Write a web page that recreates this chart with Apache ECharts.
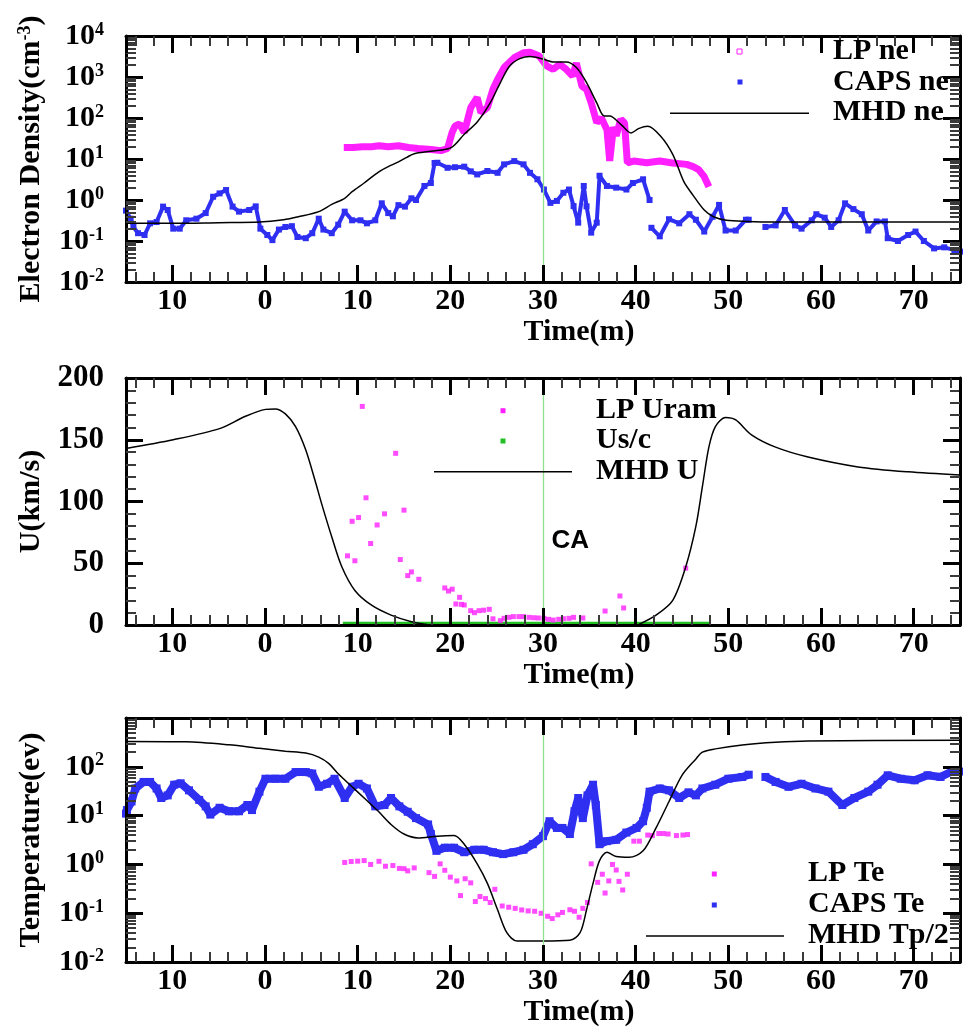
<!DOCTYPE html>
<html>
<head>
<meta charset="utf-8">
<script src="https://cdn.jsdelivr.net/npm/echarts@6/dist/echarts.min.js"></script>
<style>
html,body{margin:0;padding:0;background:#fff;}
#c{width:963px;height:1028px;}
</style>
</head>
<body>
<div id="c"></div>
<script>
// ---------------- DATA ----------------
const caTime = 30;
const timeMin = -15, timeMax = 75;

// Panel 1: electron density (cm^-3)  [time(min), value]
const lpNe = [[8.5,19],[9.5,19],[10.5,20],[11.5,20],[12.3,21],[13.3,20],[14.4,21],[15.5,19],[16.5,18],[17.9,17],[19,16],[19.7,18],[20.2,45],[20.5,63],[21,72],[21.5,44],[22.2,180],[22.9,316],[23.3,135],[24,180],[24.6,500],[25.1,870],[25.8,1700],[26.9,2960],[27.9,3900],[28.6,4000],[29.6,3240],[30.4,1860],[31.1,1540],[31.8,2040],[32.5,1540],[33.2,1050],[33.6,2200],[34.2,600],[34.7,500],[35.2,235],[35.8,78],[36.3,100],[36.9,52],[37.2,9],[37.6,60],[37.9,37],[38.4,94],[38.8,76],[39.1,8.1],[39.8,8.9],[41.2,8.1],[42.6,8.9],[44,8],[45.5,7.4],[46.2,6.5],[46.8,5.5],[47.4,3.7],[47.9,2.1]];
const capsNe = [[-15,0.55],[-14.5,0.35],[-14.2,0.22],[-13.7,0.155],[-13,0.14],[-12.4,0.27],[-11.7,0.29],[-11,0.69],[-10.5,0.57],[-9.9,0.2],[-9.2,0.2],[-8.5,0.32],[-7.4,0.35],[-6.4,0.48],[-5.6,1.2],[-4.9,1.45],[-4.2,1.75],[-3.5,0.69],[-2.8,0.52],[-1.7,0.57],[-1,0.7],[-0.5,0.2],[0.25,0.14],[0.8,0.105],[1.5,0.19],[2.2,0.22],[2.9,0.23],[3.5,0.125],[4.4,0.117],[5.1,0.155],[5.8,0.35],[6.3,0.19],[7.2,0.155],[7.9,0.25],[8.6,0.52],[9.4,0.32],[10.3,0.32],[11,0.27],[11.9,0.32],[12.6,0.83],[13.3,0.48],[13.8,0.4],[14.4,0.75],[15.1,0.69],[15.8,1.1],[16.3,1.0],[17.2,2.2],[17.9,2.6],[18.3,8],[18.6,8.1],[19.7,6.1],[20.5,6.3],[21.5,6.5],[22.2,5],[22.9,4.2],[24,5.1],[25.1,4.6],[25.8,7.4],[26.9,8.9],[27.9,7.4],[28.6,4.6],[29.4,3.2],[30.1,1.8],[30.8,0.85],[31.5,0.95],[32.2,1.5],[32.8,1.8],[33.3,0.71],[33.8,0.28],[34.4,2.2],[34.7,0.7],[35.2,0.16],[35.8,0.28],[36.1,3.9],[36.9,2.2],[37.9,2.0],[39,1.8],[39.7,2.6],[40.8,3.2],[41.5,1.0],[41.6,null],[41.7,0.21],[42.6,0.13],[43.6,0.34],[44.7,0.27],[45.8,0.45],[46.5,0.33],[47.4,0.17],[48.3,0.39],[49,0.76],[49.7,0.18],[50.8,0.18],[51.9,0.33],[52.2,0.33],[53,null],[54,0.22],[55.1,0.24],[56.1,0.57],[57.2,0.24],[57.9,0.2],[59,0.32],[59.5,0.45],[60.4,0.37],[61.1,0.22],[61.9,0.32],[62.6,0.83],[63.5,0.6],[64.4,0.45],[65.1,0.18],[66,0.3],[66.9,0.3],[67.2,0.117],[68.3,0.1],[69.4,0.14],[70.2,0.17],[71.1,0.1],[72.2,0.066],[73.3,0.07],[74.4,0.06],[75,0.055]];
const mhdNe = [[-15,0.27],[-10,0.27],[-5,0.28],[-0.6,0.29],[2,0.33],[3.6,0.39],[5.8,0.52],[7.2,0.78],[8.6,1.1],[9.4,1.6],[10.7,2.6],[11.5,3.6],[12.5,5.2],[13.3,6.5],[14.4,8.5],[15.3,11],[16.1,13.5],[17.9,15.5],[20.1,19],[21.5,40],[22.9,80],[24.3,234],[25.4,730],[26.4,1860],[27.5,2800],[28.6,3150],[30.1,2700],[31.1,2330],[32.5,2330],[33.6,1700],[34.7,730],[35.8,234],[36.6,112],[37.2,112],[38.4,70],[39.5,43],[40.3,55],[41.3,63],[42.7,36],[44,13],[45.2,2.8],[46.2,1.3],[47.4,0.57],[48.4,0.39],[49.8,0.32],[52,0.3],[55,0.29],[75,0.29]];

// Panel 2: flow speed (km/s)
const lpUram = [[8.9,56],[9.4,84],[9.7,52],[10.1,87],[10.5,177],[10.9,103],[11.4,66],[12.1,81],[12.9,90],[14.1,139],[14.6,53],[15,93],[15.4,40],[15.8,43],[16.6,37],[19.4,30],[19.8,27.5],[20.2,29],[20.6,17],[21,22.4],[21.2,16.7],[21.5,16.2],[22.2,11.6],[22.6,10],[23.1,11.6],[23.6,12],[24.2,12.7],[24.6,5],[25.4,3.5],[25.8,5.4],[26.3,6.2],[26.8,6.8],[27.4,6.8],[27.9,6.8],[28.5,6.2],[29,5.9],[29.5,5.7],[30.1,5.4],[30.6,4.6],[31.1,4],[31.7,4.6],[32.2,5.1],[32.8,5.4],[33.3,6.2],[34.3,5.7],[36.7,11.3],[38.3,23.5],[38.7,13.8],[45.4,46]];
const usc = [[8.4,1.5],[48.1,1.5]];
const mhdU = [[-15,143],[-9.9,150],[-4.9,159],[-2.1,169],[0.07,174.6],[1.1,175],[2.2,171],[3.3,160.6],[4.4,141.7],[5.4,117],[6.1,98.5],[7.2,71.5],[8.3,47],[9.7,28],[11.5,16],[13.6,8],[15.8,2.7],[17.6,0.3],[18.5,0],[40,0],[40.3,0.3],[42.2,8],[44,20],[45.4,47],[46.5,80],[47.2,112],[47.9,144],[48.6,160.6],[49.7,168],[50.8,166],[52.5,154],[55.1,144],[58.6,136],[64,128],[69.4,124],[75,121.5]];

// Panel 3: temperature (eV)
const lpTe = [[8.6,1.1],[9.3,1.15],[10,1.17],[10.7,1.2],[11.4,1.0],[12.3,1.16],[13,0.92],[13.8,0.95],[14.5,0.83],[15,0.82],[15.4,0.74],[16.1,0.85],[17.7,0.68],[18.3,0.57],[18.9,1.03],[19.4,0.76],[20,0.55],[20.7,0.46],[21.1,0.23],[21.6,0.51],[22.2,0.42],[22.7,0.174],[23.2,0.22],[23.8,0.2],[24.3,0.166],[24.8,0.31],[25.6,0.141],[26.3,0.133],[27,0.126],[27.7,0.117],[28.4,0.112],[29.1,0.11],[29.8,0.1],[30.5,0.087],[31,0.078],[31.6,0.093],[32.1,0.104],[32.9,0.118],[33.4,0.11],[33.9,0.083],[34.3,0.126],[34.8,0.166],[35.2,1.03],[35.9,0.43],[36.4,0.63],[36.7,0.26],[37.1,0.46],[37.5,1.0],[37.9,0.77],[38.2,0.45],[38.6,0.3],[39.1,0.63],[39.8,3.0],[40.4,3.0],[41.3,4.0],[41.8,3.9],[42.5,4.3],[43,4.3],[43.5,4.2],[44.4,3.9],[45.1,4.0],[45.6,4.1]];
const capsTe = [[-15,11],[-14.9,13],[-14.4,19.5],[-14,36],[-13.1,49],[-12.4,49],[-11.7,36],[-11.2,23],[-10.5,26],[-9.8,43],[-9.1,46],[-8.2,33],[-7.1,21],[-6.4,15.5],[-5.9,10.5],[-4.9,14.5],[-3.9,12.3],[-2.8,12.3],[-1.9,16.5],[-1.4,13],[-0.6,31],[0.05,57],[1.1,57],[2.2,57],[3.3,78],[4.4,78],[5.1,73],[5.8,39],[6.7,45],[7.5,57],[8.6,23],[9.4,39],[10.1,45],[11,36],[11.9,15.5],[12.9,16.5],[13.6,23],[14.5,15.5],[15.4,12],[16.3,8.9],[17.6,6.6],[17.9,4.2],[18.5,1.9],[19.4,2.2],[20.4,2.2],[21.5,1.78],[22.6,2.0],[23.6,2.0],[24.6,1.78],[25.7,1.63],[26.8,1.78],[27.9,2.0],[28.9,2.6],[30,3.8],[30.7,7.7],[31.5,5.6],[32.1,5.6],[32.9,4.2],[33.4,12.3],[33.8,23],[34.3,8.9],[34.8,26],[35.4,43],[35.7,16.5],[36.1,2.6],[36.9,3.0],[37.9,3.2],[39,4.5],[40.1,5.6],[40.8,7.7],[41.2,14.5],[41.5,31],[42.6,36],[43.6,33],[44.7,23],[45.7,30],[46.5,26],[47.2,36],[48.6,43],[50,57],[51.5,62],[52.2,69],[53,null],[54,62],[55.1,49],[56.5,39],[57.9,45],[59.4,36],[60.8,31],[62.3,16.5],[63.6,23],[65.1,31],[66.1,43],[67.2,67],[68.6,57],[70.1,53],[71.5,67],[72.9,62],[74.4,85],[75,80]];
const mhdTp = [[-15,331],[-8.5,325],[-3.9,282],[-0.6,240],[2.2,209],[4.4,191],[5.8,158],[6.9,116],[7.9,72],[9.4,39],[10.7,23],[12.2,12.4],[13.6,6.6],[15,4.2],[16.5,3.5],[18.6,3.8],[20.4,3.9],[21.5,2.6],[22.9,1.03],[24,0.41],[25.1,0.118],[26.1,0.04],[27.2,0.027],[30,0.027],[32.9,0.028],[34,0.04],[34.7,0.118],[35.4,0.41],[36.1,1.2],[36.9,1.78],[37.9,1.45],[39.3,1.4],[40.8,1.9],[42.2,5.6],[43.6,19.5],[45,67],[46.5,145],[47.2,200],[48.6,233],[51.5,280],[55.1,318],[58.6,338],[75,352]];

// ---------------- STYLE ----------------
const FONT = '"Liberation Serif","Times New Roman",serif';
const SANS = '"Liberation Sans",Arial,sans-serif';
const PINK = '#ff1fff', BLUE = '#2f2ff2', GREEN = '#22c022', CAGREEN = '#8fe08f';
const chart = echarts.init(document.getElementById('c'), null, {renderer: 'canvas', width: 963, height: 1028});

const labelRich = {
  b: {fontFamily: FONT, fontWeight: 'bold', fontSize: 30, color: '#000'},
  s: {fontFamily: FONT, fontWeight: 'bold', fontSize: 18, color: '#000', verticalAlign: 'top'}
};
function powLabel(v) {
  const e = Math.log10(v), r = Math.round(e);
  if (Math.abs(e - r) > 1e-6) return '';
  return '{b|10}{s|' + r + '}';
}
const axisLineStyle = {onZero: false, lineStyle: {color: '#000', width: 3}};
const majorTick = {inside: true, length: 17, lineStyle: {color: '#000', width: 3}};
function minor(n) { return {show: true, splitNumber: n, length: 10, lineStyle: {color: '#3a3a3a', width: 2}}; }

function xAxes(gi) {
  const common = {gridIndex: gi, type: 'value', min: timeMin, max: timeMax, splitNumber: 9, z: 5,
    splitLine: {show: false}, minorSplitLine: {show: false}, axisLine: axisLineStyle, axisTick: majorTick, minorTick: minor(5)};
  return [
    Object.assign({}, common, {position: 'bottom',
      axisLabel: {formatter: v => (v % 10 === 0 ? String(Math.abs(v)) : ''), fontFamily: FONT, fontWeight: 'bold', fontSize: 30, color: '#000', margin: 4},
      name: 'Time(m)', nameLocation: 'middle', nameGap: 33,
      nameTextStyle: {fontFamily: FONT, fontWeight: 'bold', fontSize: 30, color: '#000', padding: [0, 0, 0, 72]}}),
    Object.assign({}, common, {position: 'top', axisLabel: {show: false}})
  ];
}
// log axis: minor ticks split each decade into 9 equal value steps -> 2,3,...,9 x 10^k
function logYAxes(gi, min, max, name, nameRich) {
  const common = {gridIndex: gi, type: 'log', logBase: 10, min: min, max: max, splitNumber: 6, z: 5,
    splitLine: {show: false}, minorSplitLine: {show: false}, axisLine: axisLineStyle, axisTick: majorTick, minorTick: minor(9)};
  return [
    Object.assign({}, common, {position: 'left',
      axisLabel: {formatter: powLabel, rich: labelRich, margin: 22, showMaxLabel: max <= 10000 && Math.abs(Math.log10(max) - 4) < 1e-9},
      name: name, nameLocation: 'middle', nameGap: 80,
      nameTextStyle: {fontFamily: FONT, fontWeight: 'bold', fontSize: 30, color: '#000',
        rich: nameRich || {}}}),
    Object.assign({}, common, {position: 'right', axisLabel: {show: false}})
  ];
}
function linYAxes(gi, name) {
  const common = {gridIndex: gi, type: 'value', min: 0, max: 200, interval: 50, z: 5,
    splitLine: {show: false}, minorSplitLine: {show: false}, axisLine: axisLineStyle, axisTick: majorTick, minorTick: minor(5)};
  return [
    Object.assign({}, common, {position: 'left',
      axisLabel: {fontFamily: FONT, fontWeight: 'bold', fontSize: 31, color: '#000', margin: 22},
      name: name, nameLocation: 'middle', nameGap: 80,
      nameTextStyle: {fontFamily: FONT, fontWeight: 'bold', fontSize: 30, color: '#000'}}),
    Object.assign({}, common, {position: 'right', axisLabel: {show: false}})
  ];
}
function caLine(gi, extra) {
  return Object.assign({type: 'line', xAxisIndex: 2 * gi, yAxisIndex: 2 * gi, data: [], z: 1,
    markLine: {silent: true, symbol: 'none', label: {show: false}, animation: false,
      lineStyle: {color: CAGREEN, width: 1.3, type: 'solid'}, data: [{xAxis: caTime}]}}, extra || {});
}

const grids = [
  {left: 126, right: -5, top: 36, height: 246},
  {left: 126, right: -5, top: 378, height: 247},
  {left: 126, right: -5, top: 718, height: 249}
];

const series = [
  // panel 1
  caLine(0),
  {name: 'LP ne', type: 'line', xAxisIndex: 0, yAxisIndex: 0, data: lpNe, showSymbol: false, z: 2,
    lineStyle: {color: PINK, width: 7}},
  {name: 'CAPS ne', type: 'line', xAxisIndex: 0, yAxisIndex: 0, data: capsNe, z: 3,
    symbol: 'rect', symbolSize: 6, showSymbol: true, showAllSymbol: true, itemStyle: {color: BLUE},
    connectNulls: false, lineStyle: {color: BLUE, width: 4}},
  {name: 'MHD ne', type: 'line', xAxisIndex: 0, yAxisIndex: 0, data: mhdNe, showSymbol: false, z: 4,
    smooth: 0.3, lineStyle: {color: '#000', width: 1.5}},
  // panel 2
  caLine(1, {markPoint: {silent: true, symbol: 'circle', symbolSize: 1, itemStyle: {color: 'rgba(0,0,0,0)'},
    label: {show: true, position: 'right', distance: 8, formatter: 'CA', fontFamily: SANS, fontWeight: 'bold', fontSize: 26, color: '#000'},
    data: [{coord: [caTime, 68]}]}}),
  {name: 'Us/c', type: 'line', xAxisIndex: 2, yAxisIndex: 2, data: usc, showSymbol: false, z: 2,
    lineStyle: {color: GREEN, width: 3}},
  {name: 'LP Uram', type: 'scatter', xAxisIndex: 2, yAxisIndex: 2, data: lpUram, symbol: 'rect', symbolSize: 5, z: 3,
    itemStyle: {color: PINK}},
  {name: 'MHD U', type: 'line', xAxisIndex: 2, yAxisIndex: 2, data: mhdU, showSymbol: false, z: 4,
    smooth: 0.3, lineStyle: {color: '#000', width: 1.5}},
  // panel 3
  caLine(2),
  {name: 'CAPS Te', type: 'line', xAxisIndex: 4, yAxisIndex: 4, data: capsTe, z: 2,
    symbol: 'rect', symbolSize: 8, showSymbol: true, showAllSymbol: true, itemStyle: {color: BLUE},
    connectNulls: false, lineStyle: {color: BLUE, width: 8}},
  {name: 'LP Te', type: 'scatter', xAxisIndex: 4, yAxisIndex: 4, data: lpTe, symbol: 'rect', symbolSize: 5, z: 3,
    itemStyle: {color: PINK}},
  {name: 'MHD Tp/2', type: 'line', xAxisIndex: 4, yAxisIndex: 4, data: mhdTp, showSymbol: false, z: 4,
    smooth: 0.3, lineStyle: {color: '#000', width: 1.5}}
];

// ---------- legends ----------
const els = [];
function txt(s, x, y) {
  els.push({type: 'text', x: x, y: y, z: 100, silent: true, style: {text: s, font: 'bold 30px ' + FONT, fill: '#000',
    align: 'left', verticalAlign: 'middle', textAlign: 'left', textVerticalAlign: 'middle'}});
}
function sq(x, y, color, open) {
  els.push({type: 'rect', z: 100, silent: true, shape: {x: x - 2.5, y: y - 2.5, width: 5, height: 5},
    style: open ? {fill: '#fff', stroke: color, lineWidth: 1} : {fill: color}});
}
function ln(x1, x2, y) {
  els.push({type: 'line', z: 100, silent: true, shape: {x1: x1, y1: y, x2: x2, y2: y}, style: {stroke: '#000', lineWidth: 1.5}});
}
sq(739.5, 51.5, PINK, true); sq(740, 82, BLUE); ln(670, 809, 113.3);
txt('LP ne', 833, 51); txt('CAPS ne', 833, 82); txt('MHD ne', 833, 112.5);
sq(503, 410.7, PINK); sq(503, 441, GREEN); ln(434, 572, 471.7);
txt('LP Uram', 596, 410); txt('Us/c', 596, 440.5); txt('MHD U', 596, 471);
sq(714.3, 874, PINK); sq(714.3, 905, BLUE); ln(646, 784, 936);
txt('LP Te', 808, 873.5); txt('CAPS Te', 808, 904); txt('MHD Tp/2', 808, 935);

chart.setOption({
  backgroundColor: '#fff',
  animation: false,
  grid: grids,
  xAxis: [].concat(xAxes(0), xAxes(1), xAxes(2)),
  yAxis: [].concat(
    logYAxes(0, 0.01, 10000, 'Electron Density(cm{sup|-3})',
      {sup: {fontFamily: FONT, fontWeight: 'bold', fontSize: 18, color: '#000', verticalAlign: 'top'}}),
    linYAxes(1, 'U(km/s)'),
    logYAxes(2, 0.01, 1000, 'Temperature(ev)')),
  series: series,
  graphic: {elements: els}
});
</script>
</body>
</html>
